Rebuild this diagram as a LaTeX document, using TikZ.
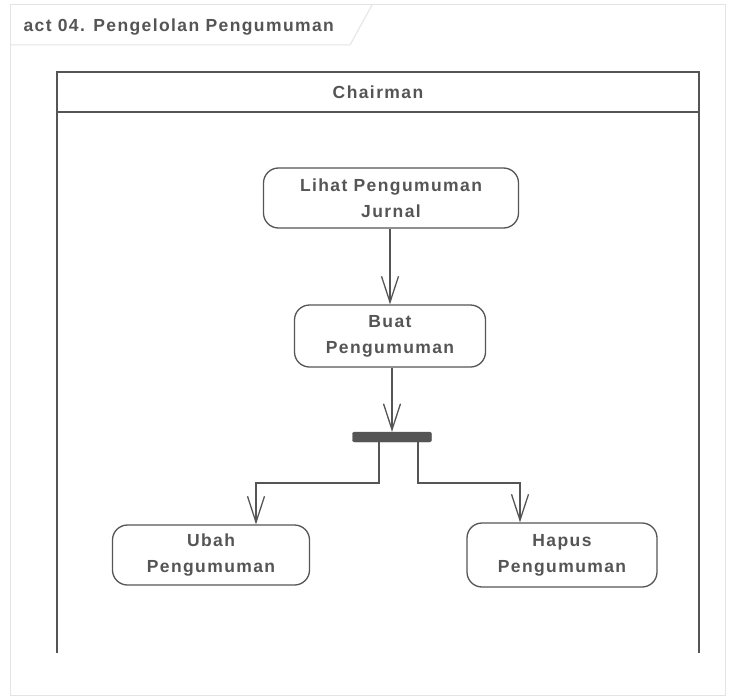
\documentclass[tikz,border=0pt]{standalone}
\usepackage{fontspec}
\setmainfont{Liberation Sans}
\usetikzlibrary{arrows.meta}
\definecolor{ink}{HTML}{555555}
\definecolor{frame}{HTML}{E4E4E4}
\tikzset{
  act/.style={draw=ink, line width=1.3pt, rounded corners=15pt, align=center,
    text=ink, font=\fontsize{17.5}{26}\selectfont\bfseries\addfontfeatures{LetterSpace=8}, inner sep=0pt},
  flow/.style={draw=ink, line width=1.3pt, -{Straight Barb[length=26pt,width=17pt,line width=1.3pt]}},
  lbl/.style={text=ink, font=\fontsize{17.5}{21}\selectfont\bfseries\addfontfeatures{LetterSpace=8}}
}
\begin{document}
\begin{tikzpicture}[x=1pt,y=-1pt]
\useasboundingbox (0,0) rectangle (735,698);
\fill[white] (0,0) rectangle (735,698);
% outer frame
\draw[frame, line width=1pt] (10,5) rectangle (725,695);
\draw[frame, line width=1pt] (10,45) -- (350,45) -- (372,5);
\node[lbl, anchor=west] (title) at (20,27) {act 04. Pengelolan Pengumuman};
% swimlane
\draw[ink, line width=1.3pt] (57,653) -- (57,72) -- (699,72) -- (699,653);
\draw[ink, line width=1.3pt] (57,112) -- (699,112);
\node[lbl] (lane) at (378,92) {Chairman};
% activities
\node[act, minimum width=255pt, minimum height=60pt] (lihat) at (391,198) {Lihat Pengumuman\\Jurnal};
\node[act, minimum width=191pt, minimum height=62pt] (buat) at (390,336) {Buat\\Pengumuman};
\node[draw=ink, fill=ink, rounded corners=2pt, minimum width=79pt, minimum height=10pt, inner sep=0pt] (fork) at (392,437) {};
\node[act, minimum width=197pt, minimum height=60pt] (ubah) at (211,555) {Ubah\\Pengumuman};
\node[act, minimum width=190pt, minimum height=64pt] (hapus) at (562,555) {Hapus\\Pengumuman};
% connectors
\draw[flow] (lihat.south -| buat.north) -- (buat.north);
\draw[flow] (buat.south -| fork.north) -- (fork.north);
\coordinate (fl) at (379,442);
\coordinate (fr) at (418,442);
\draw[flow] (fl) -- (379,483) -- (256,483) -- (ubah.north -| 256,0);
\draw[flow] (fr) -- (418,483) -- (520,483) -- (hapus.north -| 520,0);
\end{tikzpicture}
\end{document}
